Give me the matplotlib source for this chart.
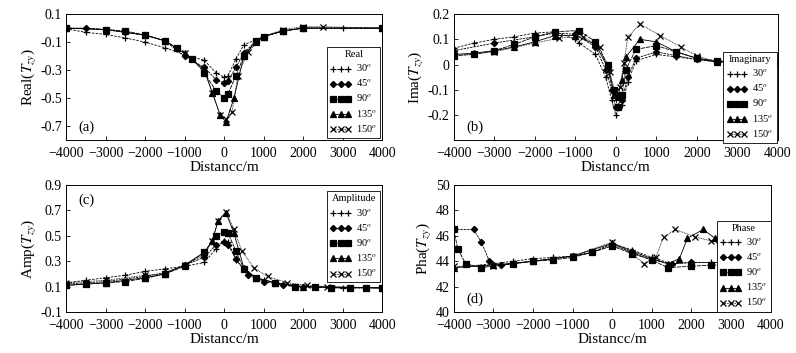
import numpy as np
import matplotlib
matplotlib.use("Agg")
import matplotlib.pyplot as plt

plt.rcParams['font.family'] = ['Liberation Serif', 'DejaVu Serif']
plt.rcParams['mathtext.fontset'] = 'stix'

labels = ["30$^o$", "45$^o$", "90$^o$", "135$^o$", "150$^o$"]
markers = ['+', 'D', 's', '^', 'x']

# (a) real part
real_x = [
    [-4000, -3500, -3000, -2500, -2000, -1500, -1000, -500, -200, 0, 100, 300, 500, 1000, 1500, 2000, 3000, 4000],
    [-4000, -3500, -3000, -2500, -2000, -1500, -1000, -500, -200, 0, 100, 300, 500, 800, 1000, 1500, 2000, 4000],
    [-4000, -3000, -2500, -2000, -1500, -1200, -800, -500, -200, 0, 100, 300, 500, 800, 1000, 1500, 2000, 4000],
    [-4000, -3000, -2000, -1500, -1000, -500, -300, -100, 50, 250, 500, 800, 1000, 1500, 2000, 4000],
    [-4000, -3000, -2000, -1500, -1000, -500, -300, -100, 50, 200, 350, 600, 1000, 1500, 2000, 2500, 4000],
]
real_y = [
    [-0.005, -0.03, -0.045, -0.07, -0.1, -0.14, -0.19, -0.23, -0.32, -0.35, -0.34, -0.22, -0.12, -0.06, -0.02, 0.0, 0.0, 0.0],
    [0.0, 0.0, -0.01, -0.03, -0.05, -0.09, -0.2, -0.28, -0.37, -0.39, -0.38, -0.28, -0.18, -0.09, -0.06, -0.02, 0.0, 0.0],
    [0.0, -0.01, -0.02, -0.05, -0.09, -0.14, -0.22, -0.32, -0.45, -0.5, -0.47, -0.34, -0.2, -0.09, -0.06, -0.02, 0.0, 0.0],
    [0.0, -0.01, -0.05, -0.09, -0.18, -0.3, -0.46, -0.62, -0.67, -0.5, -0.2, -0.1, -0.06, -0.02, 0.0, 0.0],
    [0.0, -0.01, -0.05, -0.09, -0.18, -0.3, -0.46, -0.62, -0.65, -0.6, -0.34, -0.17, -0.06, -0.01, 0.01, 0.01, 0.0],
]

# (b) imaginary part
ima_x = [
    [-4000, -3500, -3000, -2500, -2000, -1500, -1000, -900, -500, -250, -100, 0, 150, 300, 500, 1000, 1500, 2000, 2500, 3000, 4000],
    [-4000, -3000, -2000, -1500, -1000, -500, -250, -100, 0, 150, 300, 500, 1000, 1500, 2000, 2500, 4000],
    [-4000, -3500, -3000, -2500, -2000, -1500, -900, -500, -200, -50, 50, 150, 250, 500, 1000, 1500, 2000, 2500, 3000, 3600, 4000],
    [-4000, -3500, -3000, -2500, -2000, -1500, -1000, -500, -200, -50, 50, 150, 250, 600, 1000, 1500, 2000, 2500, 4000],
    [-4000, -3000, -2000, -1400, -800, -400, -150, 0, 100, 200, 300, 600, 1100, 1600, 2000, 2500, 4000],
]
ima_y = [
    [0.065, 0.085, 0.1, 0.11, 0.125, 0.13, 0.1, 0.085, 0.04, -0.05, -0.14, -0.2, -0.16, -0.07, 0.015, 0.04, 0.03, 0.02, 0.01, 0.01, 0.01],
    [0.055, 0.085, 0.11, 0.125, 0.12, 0.07, -0.02, -0.1, -0.17, -0.14, -0.05, 0.025, 0.05, 0.035, 0.02, 0.012, 0.01],
    [0.035, 0.04, 0.055, 0.08, 0.11, 0.13, 0.135, 0.09, 0.0, -0.1, -0.17, -0.12, -0.02, 0.06, 0.075, 0.05, 0.025, 0.015, 0.01, 0.01, 0.01],
    [0.04, 0.045, 0.055, 0.07, 0.09, 0.115, 0.115, 0.08, -0.01, -0.12, -0.13, -0.06, 0.03, 0.1, 0.09, 0.05, 0.025, 0.01, 0.01],
    [0.035, 0.05, 0.085, 0.105, 0.11, 0.07, -0.03, -0.12, -0.09, 0.005, 0.11, 0.16, 0.115, 0.07, 0.035, 0.01, 0.01],
]

# (c) amplitude
amp_x = [
    [-4000, -3500, -3000, -2500, -2000, -1500, -1000, -500, -200, 0, 100, 300, 600, 1000, 1500, 2000, 3000, 4000],
    [-4000, -3000, -2000, -1500, -1000, -500, -200, 0, 100, 300, 600, 1000, 1500, 2000, 4000],
    [-4000, -3500, -3000, -2500, -2000, -1500, -1000, -500, -200, 0, 100, 300, 500, 800, 1300, 1800, 2300, 2700, 3200, 3600, 4000],
    [-4000, -3000, -2000, -1500, -1000, -500, -300, -150, 50, 250, 500, 800, 1300, 2000, 4000],
    [-4000, -3000, -2000, -1500, -1000, -500, -300, -150, 50, 250, 450, 750, 1100, 1600, 2100, 2600, 4000],
]
amp_y = [
    [0.13, 0.15, 0.17, 0.19, 0.22, 0.24, 0.26, 0.29, 0.4, 0.46, 0.45, 0.31, 0.2, 0.15, 0.12, 0.1, 0.09, 0.09],
    [0.12, 0.14, 0.18, 0.21, 0.27, 0.33, 0.43, 0.45, 0.43, 0.32, 0.19, 0.14, 0.11, 0.1, 0.09],
    [0.11, 0.12, 0.13, 0.14, 0.165, 0.2, 0.26, 0.37, 0.5, 0.53, 0.52, 0.38, 0.24, 0.17, 0.13, 0.1, 0.095, 0.09, 0.09, 0.09, 0.09],
    [0.11, 0.13, 0.17, 0.2, 0.27, 0.37, 0.46, 0.62, 0.68, 0.52, 0.25, 0.17, 0.13, 0.1, 0.09],
    [0.13, 0.15, 0.19, 0.2, 0.27, 0.35, 0.46, 0.62, 0.69, 0.55, 0.38, 0.25, 0.18, 0.13, 0.11, 0.1, 0.09],
]

# (d) phase
pha_x = [
    [-4000, -3000, -2500, -2000, -1500, -1000, -500, 0, 500, 1000, 1500, 2000, 2500, 3000, 4000],
    [-4000, -3500, -3300, -3100, -2800, -2000, -1000, -500, 0, 500, 1000, 1500, 2000, 3000, 4000],
    [-4000, -3900, -3700, -3300, -2500, -2000, -1500, -1000, -500, 0, 500, 1000, 1400, 2000, 2500, 3000, 4000],
    [-4000, -3000, -2000, -1000, 0, 500, 1000, 1400, 1700, 1900, 2300, 2600, 2800, 3200, 4000],
    [-4000, -3000, -2000, -1000, 0, 500, 800, 1100, 1300, 1600, 2100, 2500, 3000, 3300, 3600, 4000],
]
pha_y = [
    [43.5, 43.8, 44.0, 44.2, 44.3, 44.4, 44.7, 45.4, 44.9, 44.3, 43.8, 43.9, 43.9, 43.9, 43.8],
    [46.5, 46.5, 45.5, 44.0, 43.7, 44.0, 44.4, 44.7, 45.3, 44.7, 44.1, 43.8, 43.9, 43.9, 43.8],
    [46.5, 45.0, 43.8, 43.5, 43.8, 44.0, 44.1, 44.3, 44.7, 45.2, 44.6, 44.1, 43.5, 43.6, 43.7, 43.7, 43.7],
    [43.5, 43.7, 44.0, 44.4, 45.4, 44.8, 44.2, 43.8, 44.2, 45.8, 46.5, 45.8, 44.2, 43.8, 43.8],
    [43.6, 43.6, 44.0, 44.4, 45.5, 44.6, 43.8, 44.3, 45.9, 46.5, 45.9, 45.6, 45.7, 45.5, 43.8, 43.8],
]

styles = [(0, (3, 1.5)), (0, (3, 1)), (0, (5, 1)), '-', (0, (1, 1))]
msizes = [4.5, 3.2, 4.2, 4.2, 4.2]

panels = [
    dict(xs=real_x, ys=real_y, pos=[0.083, 0.603, 0.397, 0.357], ylim=(-0.8, 0.1),
         yticks=[0.1, -0.1, -0.3, -0.5, -0.7], yfmt="{:.1f}", ylab="Real($T_{zy}$)",
         tag="(a)", tagpos=(0.04, 0.1), title="Real", leg=(0.995, 0.74)),
    dict(xs=ima_x, ys=ima_y, pos=[0.570, 0.603, 0.407, 0.357], ylim=(-0.3, 0.2),
         yticks=[0.2, 0.1, 0, -0.1, -0.2], yfmt="{:g}", ylab="Ima($T_{zy}$)",
         tag="(b)", tagpos=(0.04, 0.1), title="Imaginary", leg=(0.997, 0.70)),
    dict(xs=amp_x, ys=amp_y, pos=[0.083, 0.116, 0.397, 0.360], ylim=(-0.1, 0.9),
         yticks=[0.9, 0.7, 0.5, 0.3, 0.1, -0.1], yfmt="{:.1f}", ylab="Amp($T_{zy}$)",
         tag="(c)", tagpos=(0.04, 0.88), title="Amplitude", leg=(0.995, 0.95)),
    dict(xs=pha_x, ys=pha_y, pos=[0.570, 0.116, 0.398, 0.360], ylim=(40, 50),
         yticks=[40, 42, 44, 46, 48, 50], yfmt="{:g}", ylab="Pha($T_{zy}$)",
         tag="(d)", tagpos=(0.04, 0.1), title="Phase", leg=(1.0, 0.72)),
]

fig = plt.figure(figsize=(7.96, 3.53), dpi=100)

for p in panels:
    ax = fig.add_axes(p['pos'])
    for i in range(5):
        ax.plot(p['xs'][i], p['ys'][i], color='k', lw=0.6, ls=styles[i],
                marker=markers[i], ms=msizes[i], mew=0.9, mfc='k', mec='k',
                label=labels[i])
    ax.set_xlim(-4000, 4000)
    ax.set_ylim(*p['ylim'])
    ax.set_xticks(range(-4000, 4001, 1000))
    ax.set_yticks(p['yticks'])
    ax.set_yticklabels([p['yfmt'].format(v) for v in p['yticks']])
    ax.tick_params(direction='in', length=3, width=0.6, labelsize=10)
    ax.tick_params(axis='x', pad=5)
    ax.tick_params(axis='y', pad=3)
    for s in ax.spines.values():
        s.set_linewidth(0.7)
    ax.set_xlabel("Distancc/m", fontsize=11, labelpad=0.5)
    ax.set_ylabel(p['ylab'], fontsize=11, labelpad=1)
    ax.text(p['tagpos'][0], p['tagpos'][1], p['tag'], transform=ax.transAxes,
            fontsize=10.5, va='center', ha='left')
    leg = ax.legend(title=p['title'], loc='upper right', bbox_to_anchor=p['leg'],
                    fontsize=7.5, title_fontsize=7.5, numpoints=3, handlelength=2.0,
                    handletextpad=0.5, borderpad=0.3, labelspacing=0.35,
                    fancybox=False, edgecolor='k', framealpha=1, borderaxespad=0)
    leg.get_frame().set_linewidth(0.6)

fig.savefig("out.png", dpi=100)
